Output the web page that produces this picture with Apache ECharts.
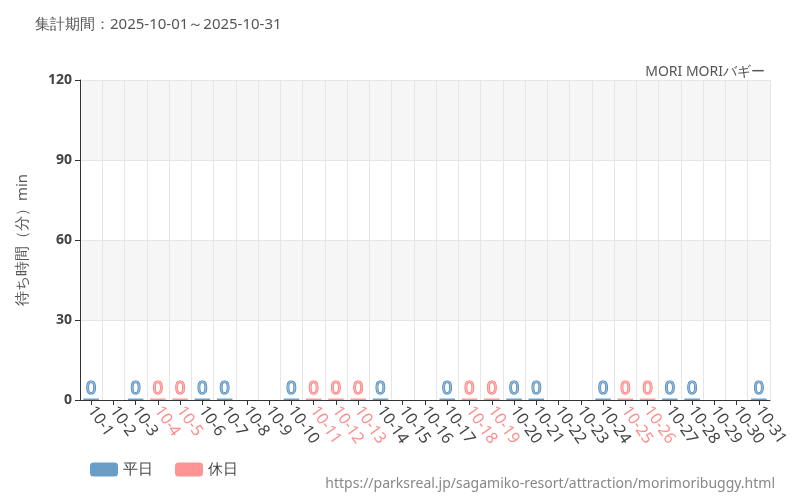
<!DOCTYPE html><html><head><meta charset="utf-8"><script src="https://cdn.jsdelivr.net/npm/echarts@6/dist/echarts.min.js"></script></head><body style="margin:0"><div id="c" style="width:800px;height:500px"></div><script>
const categories=[];for(let i=1;i<=31;i++)categories.push('10-'+i);
const holidays=['10-4','10-5','10-11','10-12','10-13','10-18','10-19','10-25','10-26'];
const missing=['10-2','10-8','10-9','10-15','10-16','10-22','10-23','10-29','10-30'];
const weekdayValues=categories.map(c=>(!missing.includes(c)&&!holidays.includes(c))?0:null);
const holidayValues=categories.map(c=>holidays.includes(c)?0:null);
const yTicks=[0,30,60,90,120];
const ch=echarts.init(document.getElementById('c'));
const lab=(col,bd)=>({show:true,position:'top',color:col,fontSize:18,fontFamily:'Noto Sans',textBorderColor:bd,textBorderWidth:1.2,distance:1});
ch.setOption({
 textStyle:{fontFamily:'Noto Sans'},
 title:[{text:'集計期間：2025-10-01～2025-10-31',left:30,top:12,textStyle:{fontSize:15,fontWeight:'normal',color:'#555'}},
        {text:'MORI MORIバギー',right:30,top:60,textStyle:{fontSize:14,fontWeight:'normal',color:'#555'}},
        {text:'https://parksreal.jp/sagamiko-resort/attraction/morimoribuggy.html',right:20,top:472,textStyle:{fontSize:14,fontWeight:'normal',color:'#888'}}],
 legend:{left:85,top:457,itemWidth:28,itemHeight:14,itemGap:22,textStyle:{fontSize:15,color:'#444'},data:['平日','休日']},
 grid:{left:80,right:30,top:80,bottom:100},
 xAxis:{type:'category',data:categories,axisLine:{lineStyle:{color:'#333'}},axisTick:{show:true,alignWithLabel:true,lineStyle:{color:'#333'}},
  splitLine:{show:true,interval:0,lineStyle:{color:'#e6e6e6'}},
  axisLabel:{interval:0,rotate:-55,fontSize:16,margin:8,color:v=>holidays.includes(v)?'#ff8c8c':'#444'}},
 yAxis:{type:'value',min:0,max:120,interval:30,name:'待ち時間（分）min',nameLocation:'middle',nameGap:50,nameTextStyle:{fontSize:15,color:'#555'},
  axisLine:{show:true,lineStyle:{color:'#333'}},axisTick:{show:true},axisLabel:{fontSize:14,fontWeight:'bold',color:'#444',formatter:v=>yTicks.includes(v)?v:''},
  splitLine:{lineStyle:{color:'#e6e6e6'}},splitArea:{show:true,areaStyle:{color:['#fff','#f6f6f6']}}},
 series:[{name:'平日',type:'bar',data:weekdayValues,barWidth:'70%',barMinHeight:1.5,itemStyle:{color:'#6a9ec7'},label:lab('#8fb8d8','#3f7fb3')},
         {name:'休日',type:'bar',data:holidayValues,barWidth:'70%',barMinHeight:1.5,barGap:'-100%',itemStyle:{color:'#ff9494'},label:lab('#ffb0b0','#ff6e6e')}]
});
</script></body></html>
